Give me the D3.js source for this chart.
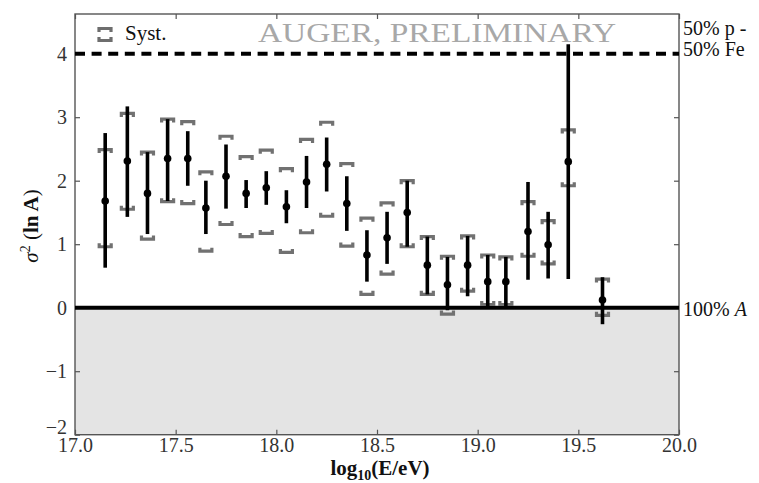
<!DOCTYPE html>
<html>
<head>
<meta charset="utf-8">
<script src="https://cdn.jsdelivr.net/npm/d3@7"></script>
<style>
  html, body { margin: 0; padding: 0; background: #fff; }
  svg text { font-family: "Liberation Serif", "DejaVu Serif", serif; }
</style>
</head>
<body>
<svg id="chart" width="759" height="483"></svg>
<script>
// Energy bins (log10 E/eV) and the ln A variance with its uncertainties
const logE    = [17.15, 17.26, 17.36, 17.46, 17.56, 17.65, 17.75, 17.85, 17.95, 18.05, 18.15, 18.25, 18.35,
                 18.45, 18.55, 18.65, 18.75, 18.85, 18.95, 19.05, 19.14, 19.25, 19.35, 19.45, 19.62];
const sigma2  = [1.68, 2.31, 1.80, 2.35, 2.35, 1.57, 2.07, 1.80, 1.89, 1.59, 1.98, 2.26, 1.64,
                 0.83, 1.10, 1.50, 0.67, 0.36, 0.67, 0.41, 0.41, 1.20, 0.99, 2.30, 0.12];
const statLo  = [0.63, 1.43, 1.16, 1.68, 1.92, 1.16, 1.56, 1.57, 1.62, 1.33, 1.57, 1.83, 1.21,
                 0.41, 0.69, 0.96, 0.21, -0.04, 0.18, 0.02, 0.02, 0.44, 0.46, 0.45, -0.26];
const statHi  = [2.75, 3.17, 2.45, 2.97, 2.78, 2.00, 2.57, 2.01, 2.15, 1.85, 2.39, 2.68, 2.07,
                 1.22, 1.51, 2.00, 1.12, 0.80, 1.13, 0.83, 0.80, 1.98, 1.51, 4.15, 0.48];
const systLo  = [0.96, 1.55, 1.08, 1.67, 1.64, 0.89, 1.31, 1.12, 1.17, 0.87, 1.18, 1.44, 0.97,
                 0.21, 0.53, 0.96, 0.21, -0.10, 0.26, 0.05, 0.05, 0.81, 0.69, 1.92, -0.12];
const systHi  = [2.49, 3.06, 2.45, 2.97, 2.93, 2.14, 2.70, 2.38, 2.48, 2.19, 2.65, 2.92, 2.27,
                 1.41, 1.65, 2.00, 1.12, 0.81, 1.13, 0.83, 0.80, 1.67, 1.37, 2.80, 0.45];

// Axis ticks and reference levels
const xTicks = [17.0, 17.5, 18.0, 18.5, 19.0, 19.5, 20.0];
const yTicks = [-2, -1, 0, 1, 2, 3, 4];
const mixLevel = 4;      // 50% p - 50% Fe
const pureLevel = 0;     // single species
const mixLabel = ["50% p -", "50% Fe"];
const titleText = "AUGER, PRELIMINARY";

const svg = d3.select("#chart");
const x = d3.scaleLinear().domain([17, 20]).range([75, 679]);
const y = d3.scaleLinear().domain([-2, 4.625]).range([434.7, 14]);

const [x0, x1] = x.range();
const [yb, yt] = y.range();

// shaded unphysical region below zero
svg.append("rect")
  .attr("x", x0).attr("y", y(pureLevel))
  .attr("width", x1 - x0).attr("height", y(-2) - y(pureLevel))
  .attr("fill", "#e4e4e4");

// axes with inward ticks on all four sides
const fmtX = d3.format(".1f");
const axisStyle = g => {
  g.select(".domain").remove();
  g.selectAll(".tick line").attr("stroke", "#555").attr("stroke-width", 1.2);
  g.selectAll(".tick text").attr("fill", "#333").attr("font-size", 20)
    .style("font-family", "'Liberation Serif', serif");
};
svg.append("g").attr("transform", `translate(0,${yb})`)
  .call(d3.axisBottom(x).tickValues(xTicks).tickFormat(fmtX).tickSizeInner(-5).tickPadding(3))
  .call(axisStyle)
  .call(g => g.selectAll(".tick text").attr("dy", "0.72em"));
svg.append("g").attr("transform", `translate(0,${yt})`)
  .call(d3.axisTop(x).tickValues(xTicks).tickSizeInner(-5).tickFormat(""))
  .call(axisStyle);
svg.append("g").attr("transform", `translate(${x0},0)`)
  .call(d3.axisLeft(y).tickValues(yTicks).tickSizeInner(-5).tickPadding(8)
        .tickFormat(d => d < 0 ? "\u2212" + Math.abs(d) : d))
  .call(axisStyle)
  // lift the lowest label clear of the first energy label
  .call(g => g.selectAll(".tick text").filter(d => d === -2).attr("dy", "-0.05em"));
svg.append("g").attr("transform", `translate(${x1},0)`)
  .call(d3.axisRight(y).tickValues(yTicks).tickSizeInner(-5).tickFormat(""))
  .call(axisStyle);

// frame
svg.append("rect")
  .attr("x", x0).attr("y", yt).attr("width", x1 - x0).attr("height", yb - yt)
  .attr("fill", "none").attr("stroke", "#555").attr("stroke-width", 1.4);

// reference lines
svg.append("line")
  .attr("x1", x0).attr("x2", x1).attr("y1", y(pureLevel)).attr("y2", y(pureLevel))
  .attr("stroke", "#000").attr("stroke-width", 4);
svg.append("line")
  .attr("x1", x0).attr("x2", x1).attr("y1", y(mixLevel)).attr("y2", y(mixLevel))
  .attr("stroke", "#000").attr("stroke-width", 4).attr("stroke-dasharray", "10,6.6");

// title watermark
svg.append("text")
  .attr("x", 258).attr("y", 42)
  .attr("font-size", 28).attr("fill", "#a8a8a8")
  .attr("textLength", 358).attr("lengthAdjust", "spacingAndGlyphs")
  .text(titleText);

// legend for systematic brackets
const bracket = (cx, cy, up) => {
  const h = up ? 3.5 : -3.5;
  return `M${cx - 6},${cy + h}L${cx - 6},${cy}L${cx + 6},${cy}L${cx + 6},${cy + h}`;
};
const legend = svg.append("g");
legend.append("path").attr("d", bracket(105, 28.5, true))
  .attr("fill", "none").attr("stroke", "#6e6e6e").attr("stroke-width", 3.2);
legend.append("path").attr("d", bracket(105, 40.5, false))
  .attr("fill", "none").attr("stroke", "#6e6e6e").attr("stroke-width", 3.2);
legend.append("text").attr("x", 125).attr("y", 40).attr("font-size", 21).attr("fill", "#111").text("Syst.");

// data
const data = logE.map((e, i) => ({
  e, v: sigma2[i], lo: statLo[i], hi: statHi[i], slo: systLo[i], shi: systHi[i]
}));

// systematic brackets (drawn beneath the statistical bars)
const sys = svg.append("g").attr("fill", "none").attr("stroke", "#717171").attr("stroke-width", 3.2);
data.forEach(d => {
  sys.append("path").attr("d", bracket(x(d.e), y(d.shi), true));
  sys.append("path").attr("d", bracket(x(d.e), y(d.slo), false));
});

// statistical error bars and points
const pts = svg.append("g");
pts.selectAll("line.stat").data(data).join("line")
  .attr("class", "stat")
  .attr("x1", d => x(d.e)).attr("x2", d => x(d.e))
  .attr("y1", d => y(d.hi)).attr("y2", d => y(d.lo))
  .attr("stroke", "#000").attr("stroke-width", 3.6);
pts.selectAll("circle").data(data).join("circle")
  .attr("cx", d => x(d.e)).attr("cy", d => y(d.v)).attr("r", 3.8).attr("fill", "#000");

// right-hand composition labels
const rl = svg.append("g").attr("font-size", 20).attr("fill", "#111");
rl.append("text").attr("x", 683).attr("y", 35).text(mixLabel[0]);
rl.append("text").attr("x", 683).attr("y", 56).text(mixLabel[1]);
const pl = rl.append("text").attr("x", 683).attr("y", y(pureLevel) + 8);
pl.append("tspan").text("100% ");
pl.append("tspan").attr("font-style", "italic").text("A");

// axis titles
const xl = svg.append("text").attr("x", 380).attr("y", 475)
  .attr("text-anchor", "middle").attr("font-size", 21).attr("font-weight", "bold").attr("fill", "#111");
xl.append("tspan").text("log");
xl.append("tspan").attr("font-size", 14).attr("dy", 5).text("10");
xl.append("tspan").attr("dy", -5).text("(E/eV)");

const yl = svg.append("text").attr("transform", "translate(38,226) rotate(-90)")
  .attr("text-anchor", "middle").attr("font-size", 21).attr("fill", "#111");
yl.append("tspan").attr("font-style", "italic").text("\u03C3");
yl.append("tspan").attr("font-size", 14).attr("dy", -8).text("2");
yl.append("tspan").attr("dy", 8).text(" (");
yl.append("tspan").attr("font-weight", "bold").text("ln A");
yl.append("tspan").text(")");
</script>
</body>
</html>
